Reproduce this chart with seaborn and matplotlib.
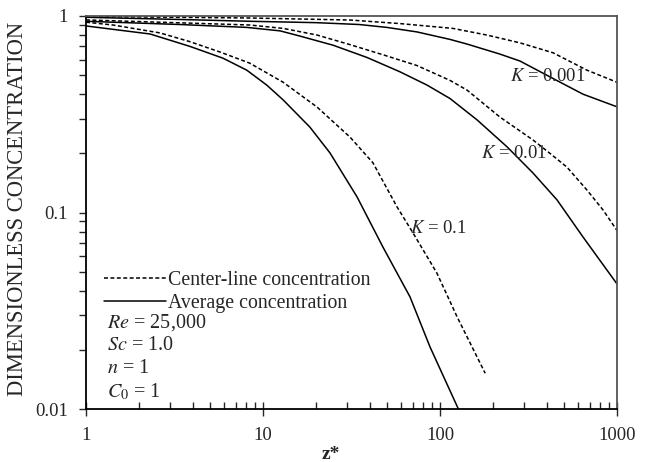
import numpy as np
import pandas as pd
import seaborn as sns
import matplotlib.pyplot as plt
from matplotlib.lines import Line2D
from matplotlib.ticker import LogLocator, NullFormatter

# values (z*, concentration)
z_k1_avg = [1, 2.3, 3.87, 5.94, 8.1, 10.5, 13, 18.4, 23.9, 34, 47.6, 67.7, 87.8, 127]
c_k1_avg = [0.89, 0.81, 0.70, 0.61, 0.53, 0.445, 0.374, 0.272, 0.201, 0.12, 0.0667, 0.0372, 0.0207, 0.01]
z_k1_cl = [1, 1.42, 2.62, 3.87, 5.71, 8.4, 13, 20.2, 31, 41.8, 57.1, 70.4, 96, 125, 180]
c_k1_cl = [0.93, 0.90, 0.82, 0.74, 0.656, 0.576, 0.46, 0.344, 0.242, 0.179, 0.107, 0.0787, 0.0492, 0.0294, 0.0152]

z_k2_avg = [1, 3.4, 8.1, 12.5, 16.2, 24.9, 38.7, 59.4, 84.5, 114, 162, 239, 335, 458, 643, 1000]
c_k2_avg = [0.94, 0.905, 0.875, 0.84, 0.79, 0.71, 0.615, 0.52, 0.445, 0.38, 0.296, 0.216, 0.159, 0.116, 0.075, 0.0433]
z_k2_cl = [1, 8.4, 13, 20.2, 31, 47.6, 74, 114, 142, 218, 335, 418, 522, 677, 834, 1000]
c_k2_cl = [0.955, 0.90, 0.865, 0.80, 0.715, 0.635, 0.56, 0.47, 0.42, 0.306, 0.234, 0.20, 0.17, 0.130, 0.103, 0.081]

z_k3_avg = [1, 3.4, 8.4, 20, 35, 50, 74, 114, 142, 218, 283, 418, 643, 1000]
c_k3_avg = [0.985, 0.96, 0.94, 0.925, 0.905, 0.875, 0.83, 0.76, 0.72, 0.64, 0.59, 0.49, 0.40, 0.345]
z_k3_cl = [1, 8.4, 31, 59.4, 118, 184, 283, 435, 677, 1000]
c_k3_cl = [0.995, 0.977, 0.954, 0.915, 0.865, 0.80, 0.73, 0.65, 0.53, 0.46]

x_ticks = [1, 10, 100, 1000]
x_ticklabels = ["1", "10", "100", "1000"]
y_ticks = [0.01, 0.1, 1]
y_ticklabels = ["0.01", "0.1", "1"]

k_labels = [r"$K$ = 0.001", r"$K$ = 0.01", r"$K$ = 0.1"]
k_label_pos = [(250, 0.49), (170, 0.20), (68, 0.083)]

params = [r"$Re$ = 25,000", r"$Sc$ = 1.0", r"$n$ = 1", r"$C_{\mathit{0}}$ = 1"]

curves = [
    ("0.1", "average", z_k1_avg, c_k1_avg),
    ("0.1", "center", z_k1_cl, c_k1_cl),
    ("0.01", "average", z_k2_avg, c_k2_avg),
    ("0.01", "center", z_k2_cl, c_k2_cl),
    ("0.001", "average", z_k3_avg, c_k3_avg),
    ("0.001", "center", z_k3_cl, c_k3_cl),
]
frames = []
for k, kind, z, c in curves:
    frames.append(pd.DataFrame({"z": z, "C": c, "K": k, "kind": kind, "curve": k + kind}))
df = pd.concat(frames, ignore_index=True)

sns.set_style("ticks")
plt.rcParams["font.family"] = ["Liberation Serif", "DejaVu Serif"]
plt.rcParams["mathtext.fontset"] = "stix"

fig = plt.figure(figsize=(6.45, 4.62), dpi=100)
ax = fig.add_axes([86 / 645, 1 - 409 / 462, 531 / 645, 393 / 462])

dash_cl = (2.6, 1.6)
sns.lineplot(data=df, x="z", y="C", units="curve", style="kind", estimator=None,
             dashes={"average": "", "center": dash_cl}, color="black",
             linewidth=1.1, sort=False, legend=False, ax=ax)

ax.set_xscale("log")
ax.set_yscale("log")
ax.set_xlim(1, 1000)
ax.set_ylim(0.01, 1)

ax.set_xticks(x_ticks, labels=x_ticklabels)
ax.set_yticks(y_ticks, labels=y_ticklabels)
ax.xaxis.set_minor_locator(LogLocator(base=10, subs=np.arange(2, 10)))
ax.yaxis.set_minor_locator(LogLocator(base=10, subs=np.arange(2, 10)))
ax.xaxis.set_minor_formatter(NullFormatter())
ax.yaxis.set_minor_formatter(NullFormatter())

ax.tick_params(axis="x", which="major", direction="inout", length=10, width=1,
               labelsize=13.5, pad=8, top=False)
ax.tick_params(axis="x", which="minor", direction="in", length=5, width=1, top=False)
ax.tick_params(axis="y", which="both", direction="out", length=5, width=1,
               labelsize=13.5, pad=8, right=False)

for s in ["left", "bottom"]:
    ax.spines[s].set_color("black")
    ax.spines[s].set_linewidth(1.3)
for s in ["top", "right"]:
    ax.spines[s].set_color("#555555")
    ax.spines[s].set_linewidth(1.3)

ax.set_xlabel("z*", fontsize=14, fontweight="bold")
ax.xaxis.set_label_coords(0.461, -0.095)
ax.set_ylabel("DIMENSIONLESS CONCENTRATION", fontsize=16.3)
ax.yaxis.set_label_coords(-0.11, 0.51)

for lab, (x, y) in zip(k_labels, k_label_pos):
    ax.text(x, y, lab, fontsize=13.5, ha="left", va="center")

handles = [Line2D([], [], color="black", lw=1.1, dashes=dash_cl),
           Line2D([], [], color="black", lw=1.1)]
ax.legend(handles, ["Center-line concentration", "Average concentration"],
          loc="upper left", bbox_to_anchor=(0.034, 0.352), frameon=False,
          fontsize=14.3, handlelength=3.1, handletextpad=0.1, borderpad=0,
          borderaxespad=0, labelspacing=0.22)

for i, p in enumerate(params):
    ax.text(0.04, 0.221 - i * 0.0588, p, transform=ax.transAxes,
            fontsize=14.5, ha="left", va="center")

fig.savefig("out.png", dpi=100)
